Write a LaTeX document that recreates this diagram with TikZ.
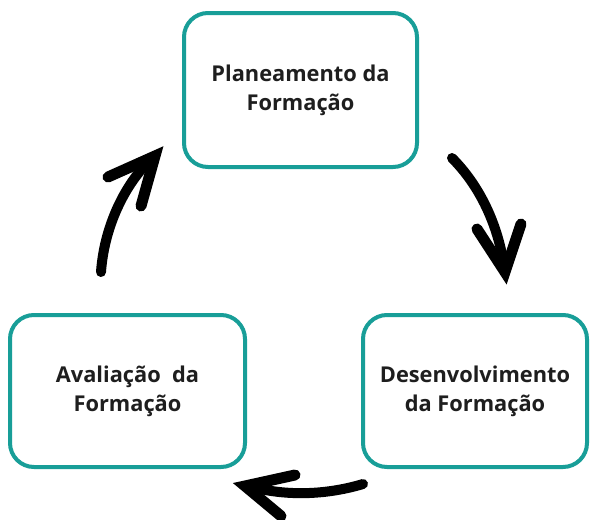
\documentclass[tikz,border=0pt]{standalone}
\usepackage{fontspec}
\setmainfont{Open Sans}
\definecolor{tealb}{RGB}{24,158,152}
\definecolor{txt}{RGB}{30,30,30}
\begin{document}
\begin{tikzpicture}[x=1pt,y=-1pt,
  box/.style={draw=tealb, line width=4pt, rounded corners=24pt, fill=white,
    inner sep=0pt, align=center, text=txt,
    font=\bfseries\fontsize{21.8}{29}\selectfont},
  arr/.style={line width=10pt, line cap=round, line join=round},
  arrhead/.style={line width=11pt, line cap=round, line join=miter}]
\useasboundingbox (0,0) rectangle (590,520);
\node[box, minimum width=233pt, minimum height=154pt] (plan) at (300.5,90) {Planeamento da\\Formação};
\node[box, minimum width=224pt, minimum height=152pt] (dev) at (475,391) {Desenvolvimento\\da Formação};
\node[box, minimum width=235pt, minimum height=152pt] (aval) at (127.5,391) {Avaliação\ \ da\\Formação};
% right arrow
\coordinate (r1) at (452,158);
\coordinate (r2) at (504,266);
\coordinate (rt) at (505,272);
\coordinate (rb1) at (477,229);
\coordinate (rb2) at (521,224);
\draw[arr] (r1) .. controls (480,186) and (498,225) .. (r2);
\draw[arrhead] (rb1) -- (rt) -- (rb2);
% bottom arrow
\coordinate (b1) at (363,484);
\coordinate (b2) at (252,487);
\coordinate (bt) at (245,486);
\coordinate (bb1) at (295,475);
\coordinate (bb2) at (281,516);
\draw[arr] (b1) .. controls (330,494) and (290,497) .. (b2);
\draw[arrhead] (bb1) -- (bt) -- (bb2);
% left arrow
\coordinate (l1) at (101,272);
\coordinate (l2) at (150,160);
\coordinate (lt) at (155,156);
\coordinate (lb1) at (108,177);
\coordinate (lb2) at (141,206);
\draw[arr] (l1) .. controls (104,230) and (122,188) .. (l2);
\draw[arrhead] (lb1) -- (lt) -- (lb2);
\end{tikzpicture}
\end{document}
